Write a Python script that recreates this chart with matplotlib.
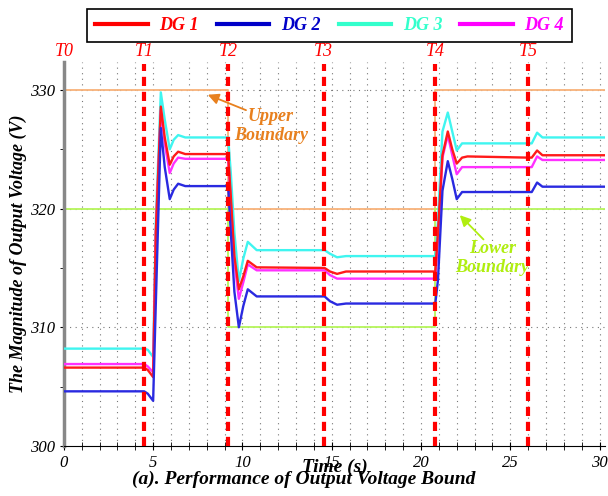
import numpy as np
import matplotlib
matplotlib.use("Agg")
import matplotlib.pyplot as plt
from matplotlib.ticker import MultipleLocator

plt.rcParams['font.family'] = ['Liberation Serif', 'DejaVu Serif']

# Опорные точки по времени (с) и напряжения генераторов (В)
t = [0, 4.5, 4.7, 5.0, 5.15, 5.43, 5.65, 5.93, 6.15, 6.4, 6.8,
     9.2, 9.35, 9.55, 9.8, 10.05, 10.3, 10.8,
     14.6, 14.9, 15.3, 15.8,
     20.8, 20.95, 21.2, 21.5, 21.75, 22.0, 22.3, 22.6,
     26.0, 26.2, 26.5, 26.8, 30.5]
dg1 = [306.6, 306.6, 306.4, 305.8, 318.0, 328.6, 326.0, 323.7, 324.4, 324.8, 324.6,
       324.6, 321.0, 316.0, 313.2, 314.3, 315.6, 315.05,
       315.0, 314.7, 314.5, 314.7,
       314.7, 318.0, 324.5, 326.5, 325.0, 323.8, 324.3, 324.4,
       324.3, 324.3, 324.9, 324.5, 324.5]
dg2 = [304.6, 304.6, 304.4, 303.8, 312.0, 326.8, 323.5, 320.8, 321.6, 322.1, 321.9,
       321.9, 318.0, 313.0, 310.0, 311.8, 313.2, 312.6,
       312.6, 312.2, 311.9, 312.0,
       312.0, 314.0, 321.5, 324.0, 322.5, 320.8, 321.4, 321.4,
       321.4, 321.4, 322.2, 321.85, 321.85]
dg3 = [308.2, 308.2, 308.1, 307.5, 319.0, 329.8, 327.5, 325.0, 325.8, 326.2, 326.0,
       326.0, 323.0, 318.0, 313.9, 315.8, 317.2, 316.5,
       316.5, 316.2, 315.9, 316.0,
       316.0, 319.0, 326.5, 328.1, 326.5, 324.9, 325.5, 325.5,
       325.5, 325.5, 326.4, 326.0, 326.0]
dg4 = [306.9, 306.9, 306.7, 306.2, 318.0, 328.3, 325.5, 323.0, 323.8, 324.3, 324.2,
       324.2, 320.5, 315.5, 312.4, 313.8, 315.3, 314.8,
       314.8, 314.4, 314.1, 314.1,
       314.1, 317.5, 324.3, 326.2, 324.5, 322.9, 323.5, 323.5,
       323.5, 323.5, 324.4, 324.1, 324.1]

# Границы напряжения (ступенчатые)
bound_t = [0, 9.2, 9.2, 20.8, 20.8, 30.5]
upper = [330, 330, 320, 320, 330, 330]
lower = [320, 320, 310, 310, 320, 320]

# Моменты событий
events = [0, 4.5, 9.2, 14.55, 20.8, 26.0]
event_labels = ['T0', 'T1', 'T2', 'T3', 'T4', 'T5']

fig = plt.figure(figsize=(6.08, 4.96), dpi=100)
ax = fig.add_axes([0.105, 0.101, 0.89, 0.774])

ax.set_xlim(0, 30.3)
ax.set_ylim(300, 332.36)

# Сетка точками
for xv in np.arange(1, 31):
    ax.axvline(xv, color='#777777', lw=0.8, ls=(0, (1, 4)), zorder=0)
for yv in [310, 320, 330]:
    ax.axhline(yv, color='#777777', lw=0.8, ls=(0, (1, 4)), zorder=0)

ax.plot(bound_t, upper, color='#f8b27a', lw=1.3, zorder=2)
ax.plot(bound_t, lower, color='#b5f55a', lw=1.3, zorder=2)

ax.plot(t, dg1, color='#ff1a1a', lw=1.7, label='DG 1', zorder=4)
ax.plot(t, dg2, color='#2a2ae0', lw=1.7, label='DG 2', zorder=4)
ax.plot(t, dg3, color='#3ff5f0', lw=1.7, label='DG 3', zorder=3)
ax.plot(t, dg4, color='#ff30ff', lw=1.7, label='DG 4', zorder=3)

for xe, lab in zip(events, event_labels):
    if xe > 0:
        ax.axvline(xe, ymax=0.995, color='#ff0000', lw=3, ls=(0, (2.2, 1.4)),
                   zorder=5)
    ax.text(xe, 332.55, lab, color='#ff0000', fontsize=13, style='italic',
            ha='center', va='bottom', zorder=6)

# Подписи границ со стрелками
ax.text(11.6, 327.0, 'Upper\nBoundary', color='#e8801e', fontsize=13,
        fontweight='bold', style='italic', ha='center', va='center', linespacing=1.15)
ax.annotate('', xy=(8.06, 329.6), xytext=(10.2, 328.3),
            arrowprops=dict(arrowstyle='-|>', color='#e8801e', lw=1.3,
                            mutation_scale=16, shrinkA=0, shrinkB=0))
ax.text(24.0, 315.8, 'Lower\nBoundary', color='#b0ee10', fontsize=13,
        fontweight='bold', style='italic', ha='center', va='center', linespacing=1.15)
ax.annotate('', xy=(22.17, 319.45), xytext=(23.5, 317.4),
            arrowprops=dict(arrowstyle='-|>', color='#b0ee10', lw=1.3,
                            mutation_scale=16, shrinkA=0, shrinkB=0))

# Оси и подписи
ax.spines['top'].set_visible(False)
ax.spines['right'].set_visible(False)
ax.spines['left'].set_color('#888888')
ax.spines['left'].set_linewidth(2.5)
ax.xaxis.set_major_locator(MultipleLocator(5))
ax.xaxis.set_minor_locator(MultipleLocator(1))
ax.yaxis.set_major_locator(MultipleLocator(10))
ax.yaxis.set_minor_locator(MultipleLocator(5))
ax.tick_params(axis='x', which='both', direction='inout', length=6, labelsize=12)
ax.tick_params(axis='y', which='both', direction='out', length=3, labelsize=12)
for lab in ax.get_xticklabels() + ax.get_yticklabels():
    lab.set_style('italic')

ax.set_ylabel('The Magnitude of Output Voltage (V)', fontsize=13,
              fontweight='bold', style='italic', labelpad=2)
ax.set_xlabel('Time (s)', fontsize=14, fontweight='bold', style='italic', labelpad=-9)
fig.text(0.5, 0.033, '(a). Performance of Output Voltage Bound', fontsize=14,
         fontweight='bold', style='italic', ha='center', va='center')

leg = fig.legend(loc='upper center', bbox_to_anchor=(0.542, 0.982), ncol=4,
                 frameon=True, fancybox=False, edgecolor='black', framealpha=1,
                 prop={'weight': 'bold', 'style': 'italic', 'size': 13},
                 handlelength=2.9, handletextpad=0.65, columnspacing=1.0,
                 borderpad=0.45, borderaxespad=0)
leg.get_frame().set_linewidth(1.2)
leg_colors = ['#ff0000', '#0000c8', '#33ffcc', '#ff00ff']
for txt, line, c in zip(leg.get_texts(), leg.get_lines(), leg_colors):
    txt.set_color(c)
    line.set_color(c)
    line.set_linewidth(3)

fig.savefig('out.png', dpi=100)
